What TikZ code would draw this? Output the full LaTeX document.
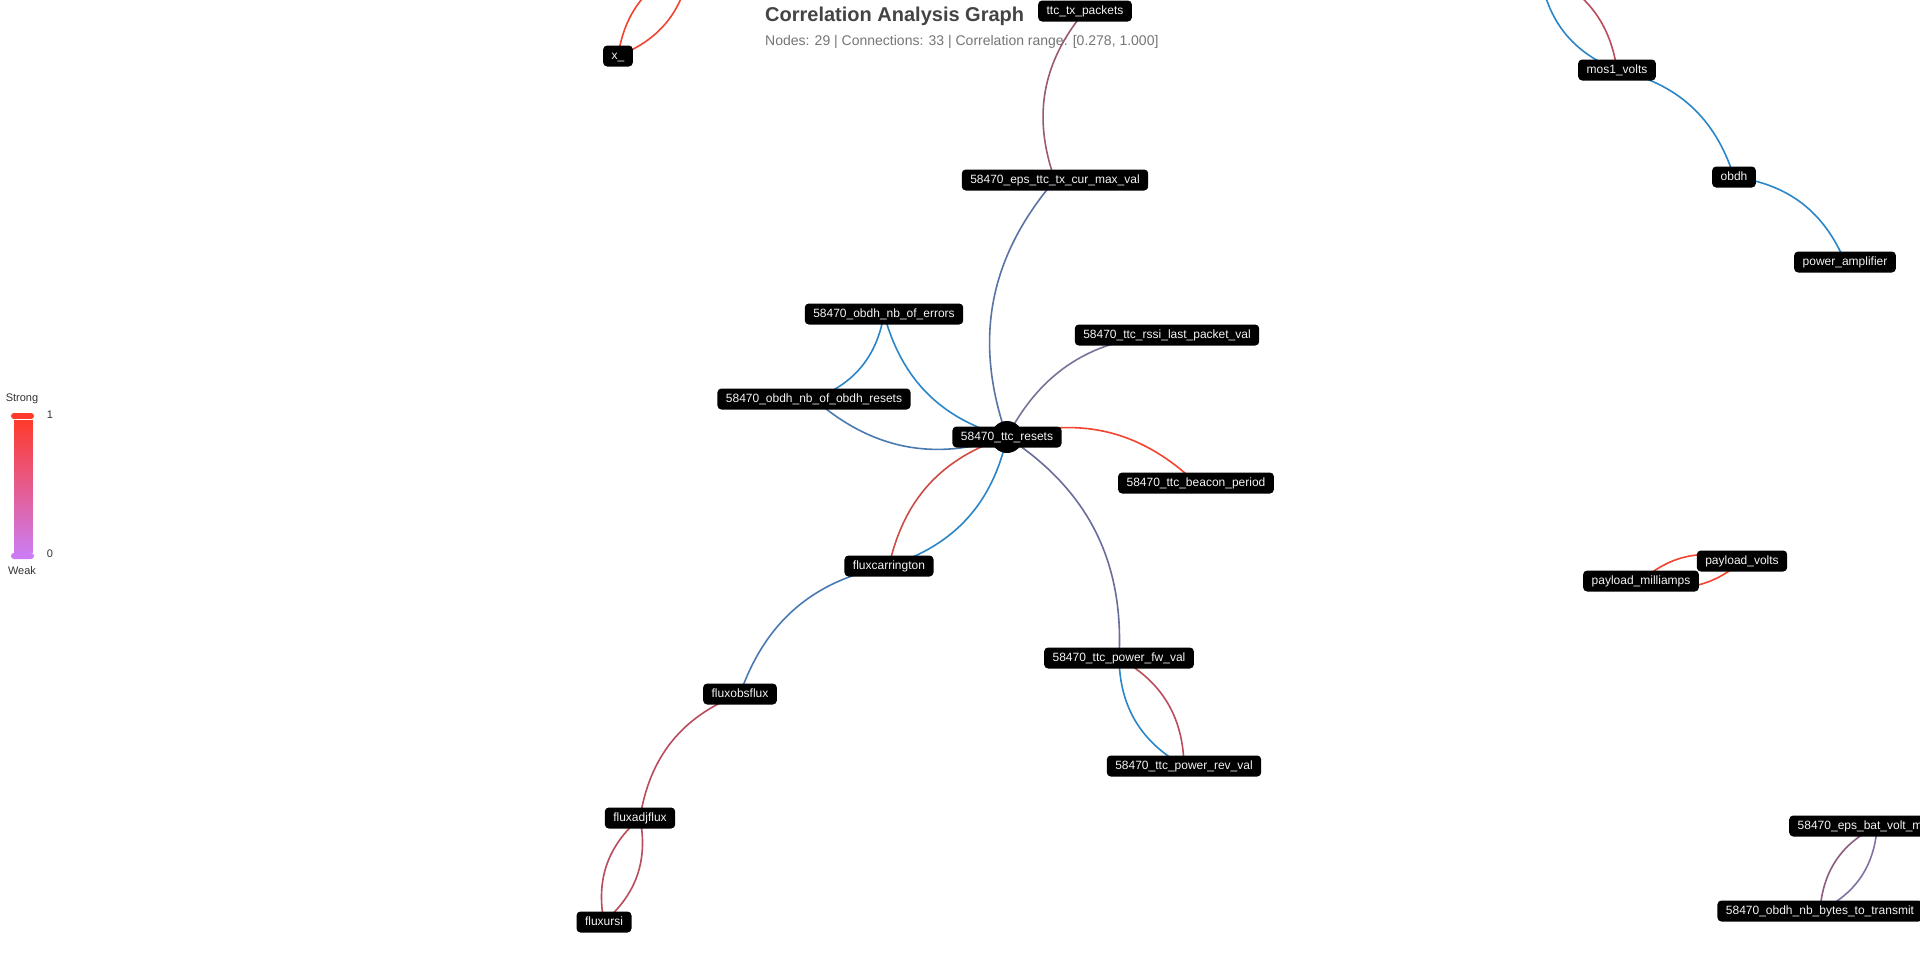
\documentclass[tikz,border=0pt]{standalone}
\usepackage{fontspec}
\setmainfont{Liberation Sans}
\usetikzlibrary{backgrounds}
\definecolor{hotred}{HTML}{F2452F}
\definecolor{coolblue}{HTML}{2A86C8}
\definecolor{steelline}{HTML}{4A7AB2}
\definecolor{slateline}{HTML}{5A72A4}
\definecolor{duskline}{HTML}{7A7098}
\definecolor{greyviolet}{HTML}{6A6C9C}
\definecolor{mauveline}{HTML}{9A5A74}
\definecolor{roseline}{HTML}{BA4C5C}
\definecolor{brickline}{HTML}{D04A45}
\definecolor{plumline}{HTML}{8C5C80}
\definecolor{lilacline}{HTML}{8470A2}
\definecolor{tagwhite}{HTML}{F4F4F4}
\definecolor{titlegrey}{HTML}{444444}
\definecolor{subgrey}{HTML}{757575}
\definecolor{legendgrey}{HTML}{333333}
\definecolor{legendtop}{HTML}{FF3A2A}
\definecolor{legendbottom}{HTML}{CC7CF0}
\tikzset{
  tag/.style={fill=black, text=tagwhite, rounded corners=4pt, inner xsep=8.5pt, inner ysep=0pt,
    minimum height=21pt, text height=8.6pt, text depth=2.6pt, font=\fontsize{12}{14}\selectfont},
  link/.style={line width=1.6pt},
  legendtext/.style={text=legendgrey, inner sep=0pt, font=\fontsize{11}{13}\selectfont}
}
\begin{document}
\begin{tikzpicture}[x=1pt,y=-1pt]
\useasboundingbox (0,0) rectangle (1920,972);
\clip (0,0) rectangle (1920,972);
\node at (765,21) [anchor=base west, inner sep=0pt, text=titlegrey, font=\bfseries\fontsize{20}{24}\selectfont] (title) {Correlation Analysis Graph};
\node at (765,45) [anchor=base west, inner sep=0pt, text=subgrey, font=\fontsize{14}{17}\selectfont] (subtitle) {Nodes: 29 | Connections: 33 | Correlation range: [0.278, 1.000]};
\fill[legendtop, rounded corners=3pt] (11,413) rectangle (34,419);
\shade[top color=legendtop, bottom color=legendbottom, draw=white, line width=0.8pt] (13,419) rectangle (33,553);
\fill[legendbottom, rounded corners=3pt] (11,553) rectangle (34,559);
\node at (22,399) [legendtext] (strong) {Strong};
\node at (50,415) [legendtext] (topvalue) {1};
\node at (50,554) [legendtext] (bottomvalue) {0};
\node at (22,571) [legendtext] (weak) {Weak};
\coordinate (xpeer) at (690,-34);
\coordinate (mospeer) at (1540,-28);
\node at (618,56) [tag] (xnode) {x\_};
\node at (1085,11) [tag] (ttctx) {ttc\_tx\_packets};
\node at (1617,70) [tag] (mosvolts) {mos1\_volts};
\node at (1734,177) [tag] (obdh) {obdh};
\node at (1845,262) [tag] (amp) {power\_amplifier};
\node at (1055,180) [tag] (txcur) {58470\_eps\_ttc\_tx\_cur\_max\_val};
\node at (884,314) [tag] (errors) {58470\_obdh\_nb\_of\_errors};
\node at (1167,335) [tag] (rssi) {58470\_ttc\_rssi\_last\_packet\_val};
\node at (814,399) [tag] (obdhresets) {58470\_obdh\_nb\_of\_obdh\_resets};
\node at (1007,437) [circle, fill=black, minimum size=32pt, inner sep=0pt] (hub) {};
\node at (hub) [tag] (resets) {58470\_ttc\_resets};
\node at (1196,483) [tag] (beacon) {58470\_ttc\_beacon\_period};
\node at (889,566) [tag] (carrington) {fluxcarrington};
\node at (740,694) [tag] (obsflux) {fluxobsflux};
\node at (640,818) [tag] (adjflux) {fluxadjflux};
\node at (604,922) [tag] (ursi) {fluxursi};
\node at (1119,658) [tag] (powerfw) {58470\_ttc\_power\_fw\_val};
\node at (1184,766) [tag] (powerrev) {58470\_ttc\_power\_rev\_val};
\node at (1742,561) [tag] (volts) {payload\_volts};
\node at (1641,581) [tag] (milliamps) {payload\_milliamps};
\node at (1789,826) [tag, anchor=west, text width=159pt, align=left] (batvolt) {58470\_eps\_bat\_volt\_m};
\node at (1820,911) [tag] (bytes) {58470\_obdh\_nb\_bytes\_to\_transmit};
\begin{pgfonlayer}{background}
\fill[white] (0,0) rectangle (1920,972);
\clip (0,0) rectangle (1920,972);
\draw[link, hotred] (xnode.center) to[bend left=30] (xpeer);
\draw[link, hotred] (xpeer) to[bend left=30] (xnode.center);
\draw[link, mauveline] (txcur.center) to[bend left=30] (ttctx.center);
\draw[link, coolblue] (mosvolts.center) to[bend left=30] (mospeer);
\draw[link, roseline] (mospeer) to[bend left=30] (mosvolts.center);
\draw[link, coolblue] (mosvolts.center) to[bend left=30] (obdh.center);
\draw[link, coolblue] (obdh.center) to[bend left=30] (amp.center);
\draw[link, slateline] (resets.center) to[bend left=30] (txcur.center);
\draw[link, coolblue] (errors.center) to[bend left=30] (obdhresets.center);
\draw[link, coolblue] (resets.center) to[bend left=30] (errors.center);
\draw[link, steelline] (resets.center) to[bend left=30] (obdhresets.center);
\draw[link, duskline] (resets.center) to[bend left=30] (rssi.center);
\draw[link, hotred] (resets.center) to[bend left=30] (beacon.center);
\draw[link, brickline] (carrington.center) to[bend left=30] (resets.center);
\draw[link, coolblue] (resets.center) to[bend left=30] (carrington.center);
\draw[link, greyviolet] (resets.center) to[bend left=30] (powerfw.center);
\draw[link, steelline] (obsflux.center) to[bend left=30] (carrington.center);
\draw[link, roseline] (adjflux.center) to[bend left=30] (obsflux.center);
\draw[link, roseline] (adjflux.center) to[bend left=30] (ursi.center);
\draw[link, roseline] (ursi.center) to[bend left=30] (adjflux.center);
\draw[link, roseline] (powerfw.center) to[bend left=30] (powerrev.center);
\draw[link, coolblue] (powerrev.center) to[bend left=30] (powerfw.center);
\draw[link, hotred] (milliamps.center) to[bend left=30] (volts.center);
\draw[link, hotred] (volts.center) to[bend left=30] (milliamps.center);
\draw[link, plumline] (bytes.center) to[bend left=30] (batvolt.center);
\draw[link, lilacline] (batvolt.center) to[bend left=30] (bytes.center);
\end{pgfonlayer}
\end{tikzpicture}
\end{document}
